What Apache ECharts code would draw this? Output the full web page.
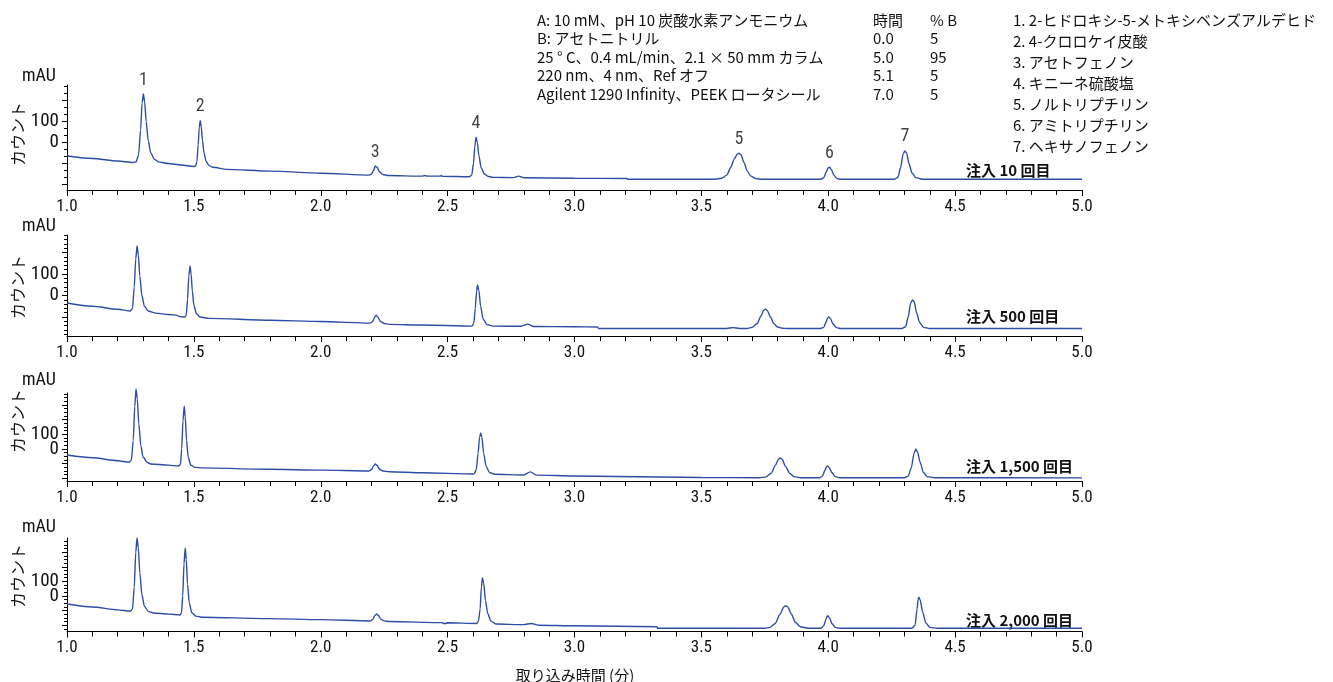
<!DOCTYPE html>
<html><head><meta charset="utf-8">
<script src="https://cdn.jsdelivr.net/npm/echarts@6/dist/echarts.min.js"></script>
<style>html,body{margin:0;padding:0;background:#fff}#c{width:1333px;height:682px}</style>
</head><body><div id="c"></div>
<script>
// ---------- DATA ----------
const inj10 = [[1.00,-64],[1.10,-76],[1.20,-88],[1.26,-95],[1.272,-92],[1.282,-60],[1.290,60],[1.296,190],[1.301,231],[1.306,195],[1.312,100],[1.320,10],[1.330,-50],[1.345,-80],[1.36,-92],[1.40,-100],[1.45,-107],[1.50,-114],[1.507,-112],[1.512,-90],[1.517,-10],[1.521,70],[1.525,104],[1.529,75],[1.534,10],[1.540,-50],[1.548,-90],[1.560,-110],[1.575,-118],[1.63,-128],[1.80,-136],[2.00,-146],[2.19,-155],[2.200,-151],[2.208,-133],[2.215,-112],[2.222,-118],[2.232,-140],[2.245,-152],[2.266,-157],[2.40,-160],[2.41,-157],[2.42,-160],[2.47,-160],[2.475,-157],[2.48,-161],[2.585,-163],[2.595,-155],[2.602,-100],[2.607,-20],[2.612,25],[2.617,0],[2.623,-60],[2.632,-120],[2.645,-150],[2.66,-162],[2.68,-166],[2.76,-167],[2.78,-160],[2.80,-168],[3.00,-170],[3.207,-171],[3.209,-175],[3.55,-175],[3.58,-170],[3.60,-155],[3.615,-120],[3.63,-78],[3.642,-54],[3.648,-51],[3.656,-58],[3.668,-95],[3.68,-135],[3.695,-160],[3.715,-172],[3.74,-175],[3.97,-175],[3.982,-168],[3.992,-140],[4.000,-120],[4.005,-118],[4.012,-128],[4.022,-155],[4.035,-172],[4.05,-175],[4.26,-175],[4.275,-165],[4.285,-120],[4.295,-55],[4.302,-40],[4.309,-50],[4.318,-100],[4.33,-145],[4.345,-167],[4.37,-175],[5.00,-175]];
const inj500 = [[1.00,-35],[1.10,-50],[1.20,-64],[1.249,-72],[1.258,-60],[1.265,40],[1.271,170],[1.276,230],[1.281,190],[1.287,90],[1.295,0],[1.305,-50],[1.32,-72],[1.35,-82],[1.40,-88],[1.435,-92],[1.44,-97],[1.465,-100],[1.470,-90],[1.475,-20],[1.480,90],[1.485,137],[1.489,100],[1.494,20],[1.500,-45],[1.510,-85],[1.525,-100],[1.56,-106],[1.80,-115],[2.00,-121],[2.195,-128],[2.205,-120],[2.212,-102],[2.218,-91],[2.225,-100],[2.235,-120],[2.25,-130],[2.27,-134],[2.40,-137],[2.595,-142],[2.603,-130],[2.609,-60],[2.614,20],[2.618,49],[2.623,25],[2.630,-50],[2.640,-110],[2.655,-135],[2.68,-142],[2.79,-143],[2.815,-133],[2.84,-144],[3.00,-145],[3.09,-146],[3.095,-153],[3.60,-153],[3.625,-149],[3.65,-153],[3.68,-153],[3.70,-148],[3.72,-130],[3.735,-95],[3.746,-68],[3.752,-63],[3.760,-70],[3.772,-100],[3.785,-130],[3.80,-146],[3.82,-152],[3.84,-153],[3.97,-153],[3.982,-148],[3.992,-122],[3.998,-103],[4.002,-100],[4.009,-108],[4.018,-130],[4.030,-148],[4.045,-153],[4.29,-153],[4.305,-145],[4.315,-100],[4.325,-35],[4.332,-21],[4.339,-30],[4.348,-80],[4.36,-125],[4.375,-148],[4.40,-153],[5.00,-153]];
const inj1500 = [[1.00,-41],[1.10,-60],[1.20,-80],[1.245,-90],[1.254,-75],[1.261,60],[1.267,290],[1.272,408],[1.277,340],[1.283,170],[1.291,20],[1.300,-55],[1.315,-90],[1.33,-102],[1.40,-110],[1.44,-116],[1.447,-105],[1.452,0],[1.457,190],[1.462,292],[1.466,220],[1.471,60],[1.478,-60],[1.488,-110],[1.505,-125],[1.53,-129],[1.80,-138],[2.00,-144],[2.19,-150],[2.200,-140],[2.208,-115],[2.215,-102],[2.222,-112],[2.232,-138],[2.245,-150],[2.27,-155],[2.40,-162],[2.60,-170],[2.605,-168],[2.613,-140],[2.620,-30],[2.626,80],[2.630,109],[2.635,80],[2.642,-30],[2.652,-120],[2.665,-160],[2.685,-172],[2.80,-177],[2.826,-156],[2.85,-178],[3.00,-184],[3.50,-194],[3.73,-196],[3.755,-190],[3.775,-165],[3.792,-110],[3.804,-70],[3.81,-61],[3.818,-70],[3.832,-120],[3.848,-165],[3.865,-188],[3.89,-196],[3.965,-196],[3.977,-185],[3.987,-145],[3.993,-120],[3.997,-116],[4.004,-128],[4.014,-160],[4.028,-188],[4.045,-196],[4.30,-196],[4.315,-185],[4.327,-130],[4.338,-30],[4.345,0],[4.352,-20],[4.362,-90],[4.375,-160],[4.39,-188],[4.42,-196],[5.00,-197]];
const inj2000 = [[1.00,-55],[1.10,-75],[1.20,-95],[1.249,-104],[1.258,-90],[1.265,60],[1.271,300],[1.276,397],[1.281,330],[1.287,160],[1.295,10],[1.305,-70],[1.32,-105],[1.34,-116],[1.40,-124],[1.445,-130],[1.451,-118],[1.456,0],[1.461,220],[1.466,329],[1.470,250],[1.475,80],[1.482,-50],[1.492,-115],[1.508,-138],[1.53,-145],[1.80,-155],[2.00,-162],[2.195,-171],[2.205,-160],[2.213,-135],[2.22,-123],[2.227,-133],[2.237,-158],[2.25,-170],[2.27,-175],[2.48,-182],[2.482,-188],[2.495,-188],[2.497,-183],[2.615,-188],[2.622,-170],[2.628,-90],[2.633,60],[2.637,123],[2.642,90],[2.649,-30],[2.658,-120],[2.670,-170],[2.69,-192],[2.80,-196],[2.83,-188],[2.86,-200],[3.00,-204],[3.325,-210],[3.327,-221],[3.75,-221],[3.77,-215],[3.79,-190],[3.81,-125],[3.825,-75],[3.832,-66],[3.840,-75],[3.855,-125],[3.870,-180],[3.89,-210],[3.92,-221],[3.972,-221],[3.982,-205],[3.991,-160],[3.995,-140],[3.998,-135],[4.005,-150],[4.015,-190],[4.028,-215],[4.045,-221],[4.33,-221],[4.342,-200],[4.35,-90],[4.354,-25],[4.357,-9],[4.362,-25],[4.372,-110],[4.385,-185],[4.40,-215],[4.43,-221],[5.00,-221]];

const peakNums = ['1','2','3','4','5','6','7'];
const peakTimes10 = [1.301,1.525,2.215,2.612,3.648,4.005,4.302];
const peakApex10 = [231,104,-112,25,-51,-118,-40];

const injLabels = ['注入 10 回目','注入 500 回目','注入 1,500 回目','注入 2,000 回目'];
const xTickValues = [1.0,1.5,2.0,2.5,3.0,3.5,4.0,4.5,5.0];
const yTickLabelHigh = [100];
const yTickLabelLow = [0];
const conditionLines = ['A: 10 mM、pH 10 炭酸水素アンモニウム','B: アセトニトリル','25 ° C、0.4 mL/min、2.1 × 50 mm カラム','220 nm、4 nm、Ref オフ','Agilent 1290 Infinity、PEEK ロータシール'];
const gradTime = ['時間','0.0','5.0','5.1','7.0'];
const gradB = ['% B','5','95','5','5'];
const compounds = ['1. 2-ヒドロキシ-5-メトキシベンズアルデヒド','2. 4-クロロケイ皮酸','3. アセトフェノン','4. キニーネ硫酸塩','5. ノルトリプチリン','6. アミトリプチリン','7. ヘキサノフェノン'];
const xTitle = '取り込み時間 (分)';
const yUnit = 'mAU';
const yTitle = 'カウント';

// ---------- LAYOUT ----------
const FONT = "'Liberation Sans Narrow','Roboto Condensed','DejaVu Sans Condensed','Noto Sans CJK JP',sans-serif";
const JFONT = "'Liberation Sans Narrow','Noto Sans CJK JP',sans-serif";
const LINE = '#2e4ea6';
const panels = [
  {data: inj10,  top:85,  bottom:190,   min:-226, max:274, minorStep:100/3, mauY:76,  cntY:134, labY:170},
  {data: inj500, top:235, bottom:336,   min:-188, max:281, minorStep:20,    mauY:226, cntY:287, labY:316},
  {data: inj1500,top:393, bottom:481,   min:-218, max:381, minorStep:25,    mauY:380, cntY:421, labY:466},
  {data: inj2000,top:538, bottom:631.5, min:-243, max:397, minorStep:25,    mauY:527, cntY:576, labY:620}
];
const LEFT = 67, RIGHT_X = 1082, H = 682, W = 1333;

function range(a, b, s){ const r=[]; for(let v=Math.ceil(a/s)*s; v<=b+1e-9; v+=s) r.push(+v.toFixed(4)); return r; }

const grid=[], xAxis=[], yAxis=[], series=[], graphic=[];
const yLabelStyle = {show:true, margin:8, color:'#111', fontSize:19, fontFamily:FONT, hideOverlap:false};
panels.forEach((p,i)=>{
  grid.push({left:LEFT, right:W-RIGHT_X, top:p.top, height:p.bottom-p.top, containLabel:false});
  xAxis.push({type:'value', gridIndex:i, min:1, max:5, interval:0.5,
    axisLine:{show:true, onZero:false, lineStyle:{color:'#000', width:1}},
    axisTick:{show:true, inside:false, length:6, lineStyle:{color:'#000'}},
    minorTick:{show:true, splitNumber:5, length:5, lineStyle:{color:'#000'}},
    splitLine:{show:false}, minorSplitLine:{show:false},
    axisLabel:{show:true, margin:8, color:'#111', fontSize:17, fontFamily:FONT,
      customValues: xTickValues, formatter:v=>v.toFixed(1)}
  });
  const majors = range(p.min, p.max, 100);
  const minors = range(p.min, p.max, p.minorStep).filter(v=>Math.abs(v/100-Math.round(v/100))>1e-6);
  yAxis.push({type:'value', gridIndex:i, min:p.min, max:p.max, position:'left',
    axisLine:{show:true, onZero:false, lineStyle:{color:'#000', width:1}},
    axisTick:{show:true, inside:false, length:5, customValues:majors, lineStyle:{color:'#000'}},
    splitLine:{show:false},
    axisLabel:Object.assign({customValues:yTickLabelHigh}, yLabelStyle)
  });
  yAxis.push({type:'value', gridIndex:i, min:p.min, max:p.max, position:'left',
    axisLine:{show:false}, splitLine:{show:false},
    axisLabel:Object.assign({customValues:yTickLabelLow}, yLabelStyle),
    axisTick:{show:true, inside:false, length:3, customValues:minors, lineStyle:{color:'#000'}}
  });
  series.push({type:'line', xAxisIndex:i, yAxisIndex:2*i, data:p.data, showSymbol:false, symbol:'none',
    smooth:0.25, smoothMonotone:'x', clip:false, lineStyle:{color:LINE, width:1.4}, animation:false, silent:true});
  graphic.push({type:'text', x:39, y:p.mauY, style:{text:yUnit, font:'18px '+FONT, fill:'#111', textAlign:'center', textVerticalAlign:'middle'}});
  graphic.push({type:'text', x:18, y:p.cntY, rotation:Math.PI/2, style:{text:yTitle, font:'16px '+JFONT, fill:'#111', textAlign:'center', textVerticalAlign:'middle'}});
  graphic.push({type:'text', x:966, y:p.labY, style:{text:injLabels[i], font:'bold 15px '+JFONT, fill:'#111', textAlign:'left', textVerticalAlign:'middle'}});
});

series.push({type:'scatter', xAxisIndex:0, yAxisIndex:0, symbolSize:0, animation:false, silent:true,
  data: peakTimes10.map((t,k)=>({value:[t,peakApex10[k]], name:peakNums[k]})),
  label:{show:true, position:'top', distance:5, formatter:'{b}', color:'#111', fontSize:18, fontFamily:FONT}});

const TXT = '15px '+JFONT;
conditionLines.forEach((s,k)=>graphic.push({type:'text', x:537, y:20+k*18.5, style:{text:s, font:TXT, fill:'#111', textAlign:'left', textVerticalAlign:'middle'}}));
gradTime.forEach((s,k)=>graphic.push({type:'text', x:873, y:20+k*18.5, style:{text:s, font:TXT, fill:'#111', textAlign:'left', textVerticalAlign:'middle'}}));
gradB.forEach((s,k)=>graphic.push({type:'text', x:930, y:20+k*18.5, style:{text:s, font:TXT, fill:'#111', textAlign:'left', textVerticalAlign:'middle'}}));
compounds.forEach((s,k)=>graphic.push({type:'text', x:1013, y:20+k*21, style:{text:s, font:TXT, fill:'#111', textAlign:'left', textVerticalAlign:'middle'}}));
graphic.push({type:'text', x:575, y:675, style:{text:xTitle, font:'15px '+JFONT, fill:'#111', textAlign:'center', textVerticalAlign:'middle'}});

const chart = echarts.init(document.getElementById('c'), null, {renderer:'canvas'});
chart.setOption({backgroundColor:'#fff', animation:false, grid, xAxis, yAxis, series, graphic});
</script></body></html>
